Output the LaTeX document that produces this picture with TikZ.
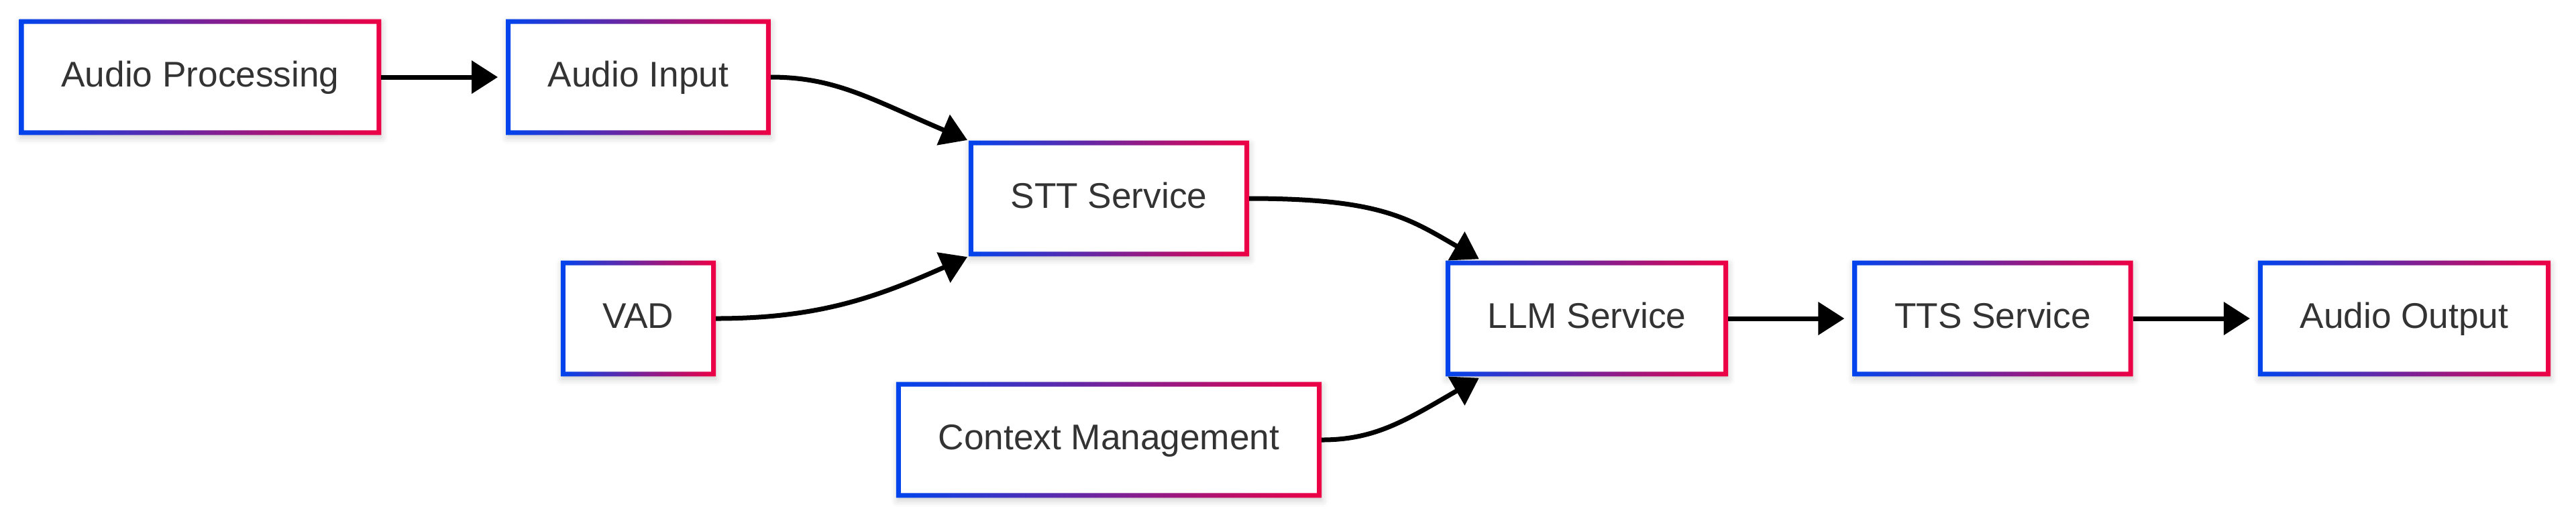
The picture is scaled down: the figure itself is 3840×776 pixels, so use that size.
\documentclass[tikz,border=0pt]{standalone}
\usepackage{fontspec}
\setmainfont{Liberation Sans}
\usetikzlibrary{arrows.meta,shadows.blur}
\definecolor{gblue}{HTML}{0044EE}
\definecolor{gred}{HTML}{EE0044}
\definecolor{txtgray}{HTML}{333333}
\newcommand{\bw}{1.75pt}

\tikzset{
  box/.style={rectangle, fill=white, minimum height=42.75pt, inner xsep=15.5pt,
    text=txtgray, font=\fontsize{13.3}{16}\selectfont, text height=9.6pt, text depth=2.6pt,
    blur shadow={shadow xshift=0.3pt, shadow yshift=-1.2pt, shadow blur radius=2.5pt, shadow opacity=20}},
  flow/.style={line width=1.75pt, -{Triangle[length=9.75pt,width=12pt]}},
}

\begin{document}
\begin{tikzpicture}[x=0.25pt,y=-0.25pt]
\useasboundingbox (0,0) rectangle (3840,776);
% boxes
\node[box] (audproc) at (298.5,115) {Audio Processing};
\node[box] (audin)   at (951.5,115) {Audio Input};
\node[box] (stt)     at (1653,296)  {STT Service};
\node[box] (vad)     at (951.5,475) {VAD};
\node[box] (llm)     at (2365.5,475) {LLM Service};
\node[box] (ctx)     at (1653,656)  {Context Management};
\node[box] (tts)     at (2970.5,475) {TTS Service};
\node[box] (audout)  at (3584,475)  {Audio Output};

% gradient frames
\foreach \n in {audproc,audin,stt,vad,llm,ctx,tts,audout}{
  \shade[left color=gblue,right color=gred,even odd rule]
    (\n.south west) rectangle (\n.north east)
    ([shift={(\bw,\bw)}]\n.south west) rectangle ([shift={(-\bw,-\bw)}]\n.north east);
}

% arrows
\draw[flow,shorten >=3pt] (audproc) -- (audin);
\draw[flow,shorten >=0.5pt] (audin.east) to[out=0,in=157,out looseness=0.8,in looseness=1.3] (stt.north west);
\draw[flow,shorten >=0.5pt] (vad.east) to[out=0,in=204] (stt.south west);
\draw[flow,shorten >=1.2pt] (stt.east) to[out=0,in=150,out looseness=1.4,in looseness=0.9] ([xshift=13.5pt]llm.north west);
\draw[flow,shorten >=1.2pt] (ctx.east) to[out=0,in=210,out looseness=0.8,in looseness=1.3] ([xshift=13.5pt]llm.south west);
\draw[flow,shorten >=3pt] (llm) -- (tts);
\draw[flow,shorten >=3pt] (tts) -- (audout);
\end{tikzpicture}
\end{document}
